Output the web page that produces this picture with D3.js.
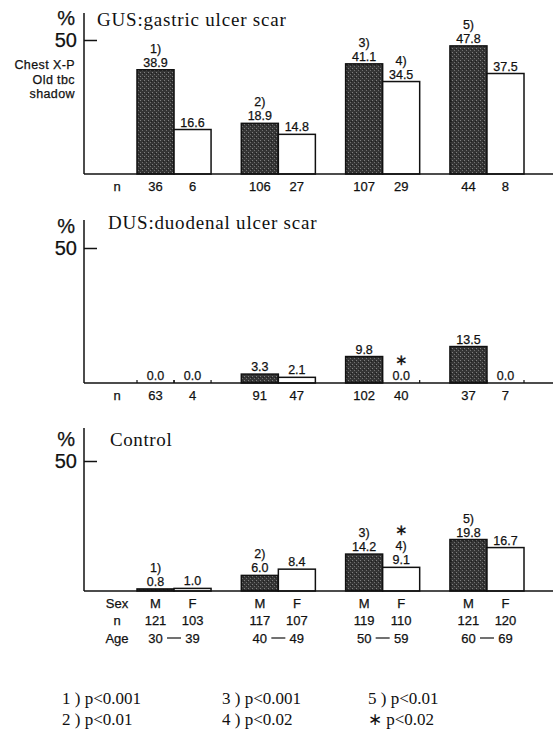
<!DOCTYPE html>
<html>
<head>
<meta charset="utf-8">
<script src="https://cdn.jsdelivr.net/npm/d3@7"></script>
<style>
  body { margin: 0; background: #fff; }
  svg { display: block; }
  .sans { font-family: "Liberation Sans", Arial, sans-serif; fill: #111; stroke: #111; stroke-width: 0.25px; }
  .serif { font-family: "Liberation Serif", "Times New Roman", serif; fill: #111; }
</style>
</head>
<body>
<div id="chart"></div>
<script>
// data
var groups = ['30-39', '40-49', '50-59', '60-69'];
var sexes = ['M', 'F'];
var ageFrom = ['30', '40', '50', '60'];
var ageTo = ['39', '49', '59', '69'];

var gusMale = [38.9, 18.9, 41.1, 47.8];
var gusFemale = [16.6, 14.8, 34.5, 37.5];
var gusMaleN = [36, 106, 107, 44];
var gusFemaleN = [6, 27, 29, 8];
var gusMaleMark = [['1)'], ['2)'], ['3)'], ['5)']];
var gusFemaleMark = [[], [], ['4)'], []];

var dusMale = [0.0, 3.3, 9.8, 13.5];
var dusFemale = [0.0, 2.1, 0.0, 0.0];
var dusMaleN = [63, 91, 102, 37];
var dusFemaleN = [4, 47, 40, 7];
var dusMaleMark = [[], [], [], []];
var dusFemaleMark = [[], [], ['\u2217'], []];

var ctrlMale = [0.8, 6.0, 14.2, 19.8];
var ctrlFemale = [1.0, 8.4, 9.1, 16.7];
var ctrlMaleN = [121, 117, 119, 121];
var ctrlFemaleN = [103, 107, 110, 120];
var ctrlMaleMark = [['1)'], ['2)'], ['3)'], ['5)']];
var ctrlFemaleMark = [[], [], ['\u2217', '4)'], []];

var notes = [['1 ) p<0.001', '2 ) p<0.01'], ['3 ) p<0.001', '4 ) p<0.02'], ['5 ) p<0.01', '\u2217  p<0.02']];

var width = 558;
var height = 736;
var axisX = 84;

var svg = d3.select('#chart').append('svg')
  .attr('width', width)
  .attr('height', height);

// halftone-ish fill for the male bars
var pat = svg.append('defs').append('pattern')
  .attr('id', 'dark')
  .attr('width', 4)
  .attr('height', 4)
  .attr('patternUnits', 'userSpaceOnUse');
pat.append('rect').attr('width', 4).attr('height', 4).attr('fill', '#353535');
pat.append('rect').attr('x', 0).attr('y', 0).attr('width', 1).attr('height', 1).attr('fill', '#808080');
pat.append('rect').attr('x', 2).attr('y', 2).attr('width', 1).attr('height', 1).attr('fill', '#707070');
pat.append('rect').attr('x', 3).attr('y', 1).attr('width', 1).attr('height', 1).attr('fill', '#1e1e1e');

var xScale = d3.scaleBand()
  .domain(groups)
  .range([137, 524])
  .paddingInner(0.29)
  .paddingOuter(0);

var sexScale = d3.scaleBand()
  .domain(sexes)
  .range([0, xScale.bandwidth()])
  .padding(0);

function barX(g, s) {
  return xScale(g) + sexScale(s);
}
function barMid(g, s) {
  return barX(g, s) + sexScale.bandwidth() / 2;
}

var panels = [
  { title: 'GUS:gastric ulcer scar', titleX: 97, titleY: 26, top: 13, y50: 40, base: 174,
    male: gusMale, female: gusFemale, maleN: gusMaleN, femaleN: gusFemaleN,
    maleMark: gusMaleMark, femaleMark: gusFemaleMark, side: true, control: false },
  { title: 'DUS:duodenal ulcer scar', titleX: 108, titleY: 229, top: 220, y50: 248, base: 383,
    male: dusMale, female: dusFemale, maleN: dusMaleN, femaleN: dusFemaleN,
    maleMark: dusMaleMark, femaleMark: dusFemaleMark, side: false, control: false },
  { title: 'Control', titleX: 110, titleY: 446, top: 428, y50: 461, base: 591,
    male: ctrlMale, female: ctrlFemale, maleN: ctrlMaleN, femaleN: ctrlFemaleN,
    maleMark: ctrlMaleMark, femaleMark: ctrlFemaleMark, side: false, control: true }
];

panels.forEach(function(p) {
  var yScale = d3.scaleLinear().domain([0, 50]).range([p.base, p.y50]);
  var g = svg.append('g');

  // axis line + 50 tick
  g.append('line')
    .attr('x1', axisX).attr('x2', axisX)
    .attr('y1', p.top).attr('y2', p.base)
    .attr('stroke', '#111').attr('stroke-width', 1.5);

  var yAxis = d3.axisRight(yScale).tickValues([50]).tickSize(13).tickFormat('');
  var ax = g.append('g')
    .attr('transform', 'translate(' + axisX + ',0)')
    .call(yAxis);
  ax.select('.domain').remove();
  ax.selectAll('line').attr('stroke', '#111').attr('stroke-width', 1.5);

  g.append('text').attr('class', 'sans')
    .attr('x', 77).attr('y', yScale(50) + 7)
    .attr('text-anchor', 'end')
    .style('font-size', '20px')
    .text('50');
  g.append('text').attr('class', 'sans')
    .attr('x', 75).attr('y', yScale(50) - 15)
    .attr('text-anchor', 'end')
    .style('font-size', '20px')
    .text('%');

  g.append('text').attr('class', 'serif')
    .attr('x', p.titleX).attr('y', p.titleY)
    .style('font-size', '19px')
    .style('letter-spacing', p.control ? '0.6px' : '0.8px')
    .text(p.title);

  if (p.side) {
    ['Chest X-P', 'Old tbc', 'shadow'].forEach(function(t, i) {
      g.append('text').attr('class', 'sans')
        .attr('x', 75).attr('y', 69 + i * 14.5)
        .attr('text-anchor', 'end')
        .style('font-size', '12.5px')
        .style('letter-spacing', '0.4px')
        .text(t);
    });
  }

  // bars
  var rows = [];
  groups.forEach(function(grp, i) {
    rows.push({ g: grp, s: 'M', v: p.male[i], n: p.maleN[i], mark: p.maleMark[i] });
    rows.push({ g: grp, s: 'F', v: p.female[i], n: p.femaleN[i], mark: p.femaleMark[i] });
  });

  g.selectAll('.bar')
    .data(rows.filter(function(d) { return d.v > 0; }))
    .enter()
    .append('rect')
    .attr('class', 'bar')
    .attr('x', function(d) { return barX(d.g, d.s); })
    .attr('y', function(d) { return yScale(d.v); })
    .attr('width', sexScale.bandwidth())
    .attr('height', function(d) { return yScale(0) - yScale(d.v); })
    .attr('fill', function(d) { return d.s === 'M' ? 'url(#dark)' : '#fff'; })
    .attr('stroke', '#111')
    .attr('stroke-width', 1.5);

  // zero bars leave only small edge marks
  rows.filter(function(d) { return d.v === 0; }).forEach(function(d) {
    [barX(d.g, d.s), barX(d.g, d.s) + sexScale.bandwidth()].forEach(function(x) {
      g.append('line')
        .attr('x1', x).attr('x2', x)
        .attr('y1', yScale(0)).attr('y2', yScale(0) - 3)
        .attr('stroke', '#111').attr('stroke-width', 1.2);
    });
  });

  // value labels, with significance marks stacked above
  rows.forEach(function(d) {
    var mid = barMid(d.g, d.s);
    var vb = yScale(d.v) - 3;
    g.append('text').attr('class', 'sans')
      .attr('x', mid).attr('y', vb)
      .attr('text-anchor', 'middle')
      .style('font-size', '12.5px')
      .text(d3.format('.1f')(d.v));
    var prev = vb;
    d.mark.slice().reverse().forEach(function(t) {
      var star = t === '\u2217';
      var b = prev - (star ? 15.5 : 14);
      g.append('text').attr('class', 'sans')
        .attr('x', mid).attr('y', b)
        .attr('text-anchor', 'middle')
        .style('font-size', star ? '15px' : '12.5px')
        .text(t);
      prev = b;
    });
  });

  // baseline
  g.append('line')
    .attr('x1', axisX).attr('x2', 553)
    .attr('y1', p.base).attr('y2', p.base)
    .attr('stroke', '#111').attr('stroke-width', 1.5);

  // labels under the axis
  var nY = p.base + 17;
  if (p.control) {
    g.append('text').attr('class', 'sans')
      .attr('x', 117).attr('y', nY).attr('text-anchor', 'middle')
      .style('font-size', '13px').text('Sex');
    nY += 17;
  }
  g.append('text').attr('class', 'sans')
    .attr('x', 117).attr('y', nY).attr('text-anchor', 'middle')
    .style('font-size', '13px').text('n');
  rows.forEach(function(d) {
    if (p.control) {
      g.append('text').attr('class', 'sans')
        .attr('x', barMid(d.g, d.s)).attr('y', p.base + 17)
        .attr('text-anchor', 'middle')
        .style('font-size', '13px').text(d.s);
    }
    g.append('text').attr('class', 'sans')
      .attr('x', barMid(d.g, d.s)).attr('y', nY)
      .attr('text-anchor', 'middle')
      .style('font-size', '13px').text(d.n);
  });
  if (p.control) {
    var ageY = nY + 18;
    g.append('text').attr('class', 'sans')
      .attr('x', 117).attr('y', ageY).attr('text-anchor', 'middle')
      .style('font-size', '13px').text('Age');
    groups.forEach(function(grp, i) {
      g.append('text').attr('class', 'sans')
        .attr('x', barMid(grp, 'M')).attr('y', ageY)
        .attr('text-anchor', 'middle')
        .style('font-size', '13px').text(ageFrom[i]);
      g.append('text').attr('class', 'sans')
        .attr('x', barMid(grp, 'F')).attr('y', ageY)
        .attr('text-anchor', 'middle')
        .style('font-size', '13px').text(ageTo[i]);
      g.append('line')
        .attr('x1', xScale(grp) + xScale.bandwidth() / 2 - 7)
        .attr('x2', xScale(grp) + xScale.bandwidth() / 2 + 7)
        .attr('y1', ageY - 5).attr('y2', ageY - 5)
        .attr('stroke', '#111').attr('stroke-width', 1.2);
    });
  }
});

// footnotes
var noteX = [62, 222, 368];
notes.forEach(function(col, i) {
  col.forEach(function(t, k) {
    svg.append('text').attr('class', 'serif')
      .attr('x', noteX[i]).attr('y', 704 + k * 21)
      .style('font-size', '17px')
      .text(t);
  });
});
</script>
</body>
</html>
